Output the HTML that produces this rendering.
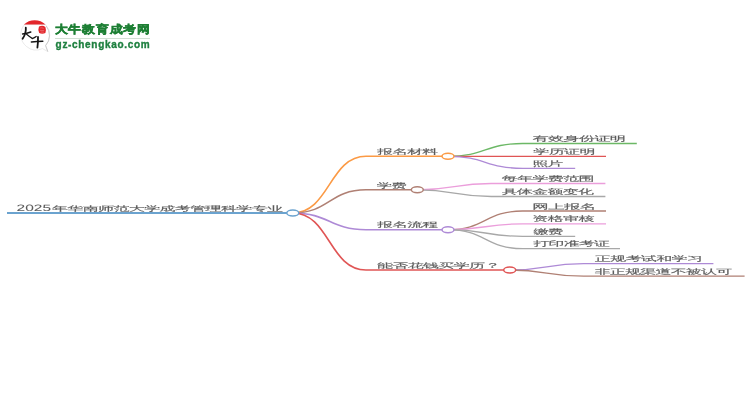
<!DOCTYPE html>
<html><head><meta charset="utf-8"><style>
html,body{margin:0;padding:0;background:#fff;width:750px;height:410px;overflow:hidden;position:relative}
svg text{font-family:"Liberation Sans",sans-serif;text-rendering:geometricPrecision}
</style></head><body>
<svg width="750" height="410" viewBox="0 0 750 410" style="position:absolute;left:0;top:0;will-change:transform" fill="none" stroke-width="1.3">
<path d="M7,213 L287,213" stroke="#6ba3cf" stroke-width="1.8"/>
<path d="M292.80,213.00 C329.40,213.00 329.40,156.30 366.00,156.30 L443.00,156.30" stroke="#fb9a45" stroke-width="1.6"/>
<path d="M292.80,213.00 C329.40,213.00 329.40,189.80 366.00,189.80 L412.30,189.80" stroke="#b08074" stroke-width="1.6"/>
<path d="M292.80,213.00 C329.40,213.00 329.40,229.70 366.00,229.70 L443.00,229.70" stroke="#ae8ad6" stroke-width="1.6"/>
<path d="M292.80,213.00 C329.40,213.00 329.40,270.00 366.00,270.00 L504.70,270.00" stroke="#e05555" stroke-width="1.6"/>
<path d="M448.00,156.30 C485.30,156.30 485.30,143.50 522.60,143.50 L636.80,143.50" stroke="#6cb866" stroke-width="1.3"/>
<path d="M448.00,156.30 C485.30,156.30 485.30,156.30 522.60,156.30 L606.00,156.30" stroke="#e05555" stroke-width="1.3"/>
<path d="M448.00,156.30 C485.30,156.30 485.30,168.30 522.60,168.30 L575.20,168.30" stroke="#ae8ad6" stroke-width="1.3"/>
<path d="M417.30,189.80 C454.25,189.80 454.25,183.50 491.20,183.50 L605.40,183.50" stroke="#eb9edb" stroke-width="1.3"/>
<path d="M417.30,189.80 C454.25,189.80 454.25,196.50 491.20,196.50 L605.40,196.50" stroke="#a8a8a8" stroke-width="1.3"/>
<path d="M448.00,229.70 C485.30,229.70 485.30,211.00 522.60,211.00 L606.00,211.00" stroke="#b08074" stroke-width="1.3"/>
<path d="M448.00,229.70 C485.30,229.70 485.30,223.80 522.60,223.80 L606.00,223.80" stroke="#eb9edb" stroke-width="1.3"/>
<path d="M448.00,229.70 C485.30,229.70 485.30,236.30 522.60,236.30 L575.20,236.30" stroke="#a8a8a8" stroke-width="1.3"/>
<path d="M448.00,229.70 C485.30,229.70 485.30,248.60 522.60,248.60 L620.00,248.60" stroke="#a8a8a8" stroke-width="1.3"/>
<path d="M509.70,270.00 C546.70,270.00 546.70,263.60 583.70,263.60 L713.40,263.60" stroke="#ae8ad6" stroke-width="1.3"/>
<path d="M509.70,270.00 C546.70,270.00 546.70,276.20 583.70,276.20 L744.60,276.20" stroke="#b08074" stroke-width="1.3"/>
<ellipse cx="448.0" cy="156.3" rx="6.0" ry="3.0" stroke="#fb9a45" stroke-width="1.5" fill="#fff"/>
<ellipse cx="417.3" cy="189.8" rx="6.0" ry="3.0" stroke="#b08074" stroke-width="1.5" fill="#fff"/>
<ellipse cx="448.0" cy="229.7" rx="6.0" ry="3.0" stroke="#ae8ad6" stroke-width="1.5" fill="#fff"/>
<ellipse cx="509.7" cy="270.0" rx="6.0" ry="3.0" stroke="#e05555" stroke-width="1.5" fill="#fff"/>
<ellipse cx="292.8" cy="213" rx="6.0" ry="3.0" stroke="#6ba3cf" stroke-width="1.5" fill="#fff"/>
<text transform="matrix(1.68446,0,0,1.0,16.61,210.60)" font-size="9.20" letter-spacing="0.000" fill="#5a5a5a" stroke="#5a5a5a" stroke-width="0.05">2025</text>
<text transform="matrix(2.29258,0,0,1.0,51.98,210.60)" font-size="7.00" letter-spacing="-0.300" fill="#5a5a5a" stroke="#5a5a5a" stroke-width="0.12">年华南师范大学成考管理科学专业</text>
<text transform="matrix(2.24118,0,0,1.0,377.21,154.00)" font-size="7.00" letter-spacing="-0.300" fill="#5a5a5a" stroke="#5a5a5a" stroke-width="0.12">报名材料</text>
<text transform="matrix(2.18604,0,0,1.0,376.79,187.60)" font-size="7.00" letter-spacing="-0.300" fill="#5a5a5a" stroke="#5a5a5a" stroke-width="0.12">学费</text>
<text transform="matrix(2.24118,0,0,1.0,377.21,227.40)" font-size="7.00" letter-spacing="-0.300" fill="#5a5a5a" stroke="#5a5a5a" stroke-width="0.12">报名流程</text>
<text transform="matrix(2.29071,0,0,1.0,376.98,267.60)" font-size="7.00" letter-spacing="-0.300" fill="#5a5a5a" stroke="#5a5a5a" stroke-width="0.12">能否花钱买学历？</text>
<text transform="matrix(2.30628,0,0,1.0,532.57,141.20)" font-size="7.00" letter-spacing="-0.300" fill="#5a5a5a" stroke="#5a5a5a" stroke-width="0.12">有效身份证明</text>
<text transform="matrix(2.29172,0,0,1.0,533.37,154.00)" font-size="7.00" letter-spacing="-0.300" fill="#5a5a5a" stroke="#5a5a5a" stroke-width="0.12">学历证明</text>
<text transform="matrix(2.26142,0,0,1.0,532.39,166.00)" font-size="7.00" letter-spacing="-0.300" fill="#5a5a5a" stroke="#5a5a5a" stroke-width="0.12">照片</text>
<text transform="matrix(2.29003,0,0,1.0,501.81,181.30)" font-size="7.00" letter-spacing="-0.300" fill="#5a5a5a" stroke="#5a5a5a" stroke-width="0.12">每年学费范围</text>
<text transform="matrix(2.27443,0,0,1.0,501.80,193.80)" font-size="7.00" letter-spacing="-0.300" fill="#5a5a5a" stroke="#5a5a5a" stroke-width="0.12">具体金额变化</text>
<text transform="matrix(2.35504,0,0,1.0,532.36,208.60)" font-size="7.00" letter-spacing="-0.300" fill="#5a5a5a" stroke="#5a5a5a" stroke-width="0.12">网上报名</text>
<text transform="matrix(2.29111,0,0,1.0,532.34,221.40)" font-size="7.00" letter-spacing="-0.300" fill="#5a5a5a" stroke="#5a5a5a" stroke-width="0.12">资格审核</text>
<text transform="matrix(2.18604,0,0,1.0,533.39,233.90)" font-size="7.00" letter-spacing="-0.300" fill="#5a5a5a" stroke="#5a5a5a" stroke-width="0.12">缴费</text>
<text transform="matrix(2.25946,0,0,1.0,533.42,246.20)" font-size="7.00" letter-spacing="-0.300" fill="#5a5a5a" stroke="#5a5a5a" stroke-width="0.12">打印准考证</text>
<text transform="matrix(2.29275,0,0,1.0,594.79,261.20)" font-size="7.00" letter-spacing="-0.300" fill="#5a5a5a" stroke="#5a5a5a" stroke-width="0.12">正规考试和学习</text>
<text transform="matrix(2.26530,0,0,1.0,594.79,273.80)" font-size="7.00" letter-spacing="-0.300" fill="#5a5a5a" stroke="#5a5a5a" stroke-width="0.12">非正规渠道不被认可</text>
</svg>

<svg width="160" height="60" viewBox="0 0 160 60" style="position:absolute;left:0;top:0">
  <path d="M24.5,24.6 A15.2,15.2 0 0 0 26.5,46.5 A15.2,15.2 0 0 0 42.5,48.6 L47.8,51.6 L45.6,45.6 A15.2,15.2 0 0 0 45.5,24.6 Z" fill="#fff" stroke="#dcdcdc" stroke-width="0.6"/>
  <path d="M46.2,26 A15.2,15.2 0 0 1 45.6,45.6 L47.8,51.6" fill="none" stroke="#c4c4c4" stroke-width="0.8"/>
  <path d="M23.9,24.6 A15.3,15.3 0 0 1 45.5,24.6 Z" fill="#e3262b"/>
  <path d="M39,26.6 Q42.5,24.6 45.4,27 Q46.6,30.5 45.4,33 Q42.2,34.4 39.2,33 Q37.6,30 39,26.6 Z" fill="#e3262b"/>
  <path d="M40.2,28 Q42,27.4 43.6,28.4 M40,30.4 L44.2,30.6 M40.6,32 L43.8,32.2" stroke="#f3a6a6" stroke-width="0.45" fill="none"/>
  <g stroke="#141414" fill="none" stroke-linecap="round">
    <path d="M22.6,34 Q26.8,33.4 30.8,32" stroke-width="1.5"/>
    <path d="M25.8,27.6 Q26.4,33 22.6,38.8" stroke-width="1.8"/>
    <path d="M26.6,34.2 Q29.4,36.6 32.4,38.4" stroke-width="1.2"/>
    <path d="M32.2,38.6 Q34.6,37.6 36.2,36.4" stroke-width="1.2"/>
    <path d="M31.4,42 Q37.2,41.4 42.8,41.2" stroke-width="1.5"/>
    <path d="M38,37 Q38.2,42.5 37.4,47.6" stroke-width="1.8"/>
  </g>
</svg>
<div style="position:absolute;left:54.5px;top:21.9px;transform:scaleY(0.86);transform-origin:0 0;font:900 13px 'Liberation Sans',sans-serif;color:#1d7f34;letter-spacing:0.75px;-webkit-text-stroke:0.55px #1d7f34;white-space:nowrap;line-height:18px">大牛教育成考网</div>
<div style="position:absolute;left:54.5px;top:38px;width:95.5px;height:1px;background:#d2e0d4"></div>
<div style="position:absolute;left:55.6px;top:38.4px;font:bold 10px 'Liberation Sans',sans-serif;color:#1f8040;letter-spacing:0.68px;-webkit-text-stroke:0.35px #1f8040;white-space:nowrap;line-height:13px">gz-chengkao.com</div>

</body></html>
